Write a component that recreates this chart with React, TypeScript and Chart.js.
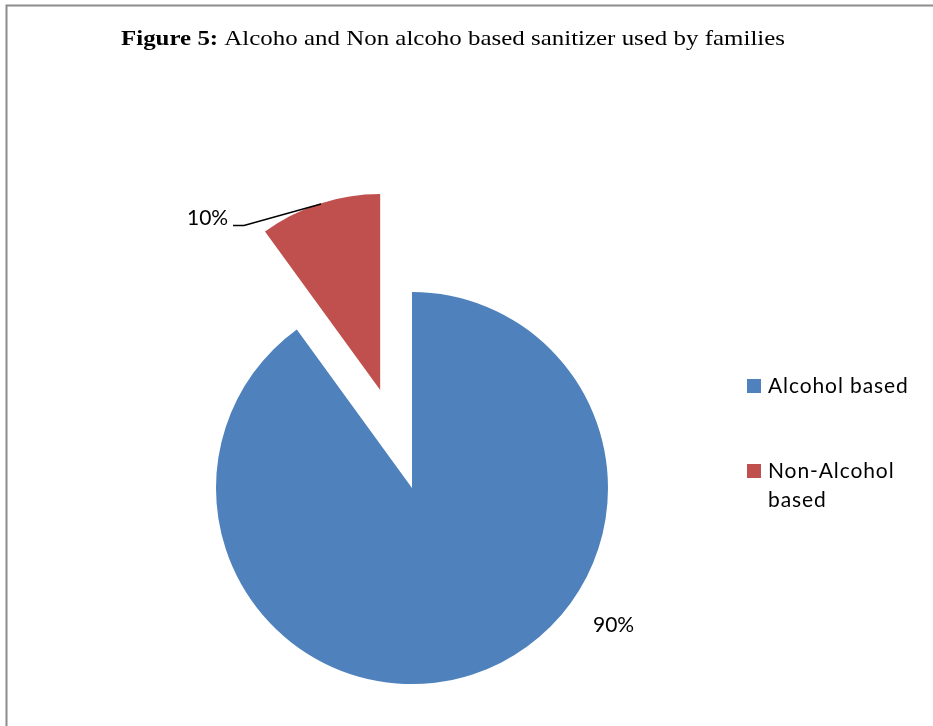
import React, { useEffect, useRef } from "react";
import { Chart, registerables } from "chart.js";

Chart.register(...registerables);

const categories = ["Alcohol based", "Non-Alcohol based"];
const legendLines = [["Alcohol based"], ["Non-Alcohol", "based"]];
const values = [90, 10];
const percentLabels = ["90%", "10%"];
const colors = ["#4F81BD", "#C0504D"];
const explode = [0, 103];
const titleBold = "Figure 5:";
const titleRest = " Alcoho and Non alcoho based sanitizer used by families";

const RADIUS = 196;

// Explode slices by moving the arc's centre along its mid-angle
const explodePlugin = {
  id: "explodeSlices",
  afterDatasetsUpdate(chart: any) {
    const meta = chart.getDatasetMeta(0);
    meta.data.forEach((el: any, i: number) => {
      const d = explode[i];
      if (!d) return;
      const mid = (el.startAngle + el.endAngle) / 2;
      el.x += Math.cos(mid) * d;
      el.y += Math.sin(mid) * d;
    });
  },
};

const decorPlugin = {
  id: "decor",
  afterDraw(chart: any) {
    const ctx = chart.ctx as CanvasRenderingContext2D;
    ctx.save();
    // frame
    ctx.strokeStyle = "#8c8c8c";
    ctx.lineWidth = 2;
    ctx.beginPath();
    ctx.moveTo(933, 5.5);
    ctx.lineTo(6.5, 5.5);
    ctx.lineTo(6.5, 726);
    ctx.stroke();

    // title (horizontally stretched as in the reference)
    ctx.fillStyle = "#000";
    ctx.textBaseline = "alphabetic";
    ctx.textAlign = "left";
    const boldFont = "bold 22px 'Liberation Serif', 'Times New Roman', serif";
    const normFont = "22px 'Liberation Serif', 'Times New Roman', serif";
    ctx.font = boldFont;
    const wb = ctx.measureText(titleBold).width;
    ctx.font = normFont;
    const wr = ctx.measureText(titleRest).width;
    const sx = 664 / (wb + wr);
    ctx.save();
    ctx.translate(121, 45);
    ctx.scale(sx, 1);
    ctx.font = boldFont;
    ctx.fillText(titleBold, 0, 0);
    ctx.font = normFont;
    ctx.fillText(titleRest, wb, 0);
    ctx.restore();

    // data labels
    const meta = chart.getDatasetMeta(0);
    const c = meta.data[0];
    const cx = c.x;
    const cy = c.y;
    ctx.font = "21px Lato, 'Noto Sans', sans-serif";
    ctx.fillStyle = "#000";
    ctx.fillText(percentLabels[0], cx + 181, cy + 144);
    ctx.fillText(percentLabels[1], cx - 225, cy - 263);
    ctx.strokeStyle = "#000";
    ctx.lineWidth = 1.5;
    ctx.beginPath();
    ctx.moveTo(cx - 179, cy - 262.5);
    ctx.lineTo(cx - 168, cy - 262.5);
    ctx.lineTo(cx - 91, cy - 284);
    ctx.stroke();

    // legend
    const lx = 747;
    const baselines = [393, 478];
    const lineH = 29;
    (ctx as any).letterSpacing = "0.9px";
    legendLines.forEach((lines, i) => {
      const b = baselines[i];
      ctx.fillStyle = colors[i];
      ctx.fillRect(lx, b - 14, 14, 14);
      ctx.fillStyle = "#000";
      lines.forEach((t, j) => {
        ctx.fillText(t, lx + 21, b + j * lineH);
      });
    });
    ctx.restore();
  },
};

export default function App() {
  const ref = useRef<HTMLCanvasElement>(null);
  useEffect(() => {
    if (!ref.current) return;
    const chart = new Chart(ref.current, {
      type: "pie",
      data: {
        labels: categories,
        datasets: [
          {
            data: values,
            backgroundColor: colors,
            borderWidth: 0,
          },
        ],
      },
      options: {
        animation: false,
        responsive: false,
        radius: RADIUS,
        layout: { padding: { left: 10, right: 119, top: 260, bottom: 10 } },
        plugins: {
          legend: { display: false },
          tooltip: { enabled: false },
          title: { display: false },
        },
      },
      plugins: [explodePlugin, decorPlugin],
    });
    return () => chart.destroy();
  }, []);
  return (
    <div style={{ position: "absolute", left: 0, top: 0, width: 933, height: 726, background: "#fff" }}>
      <canvas ref={ref} width={933} height={726} style={{ display: "block" }} />
    </div>
  );
}
